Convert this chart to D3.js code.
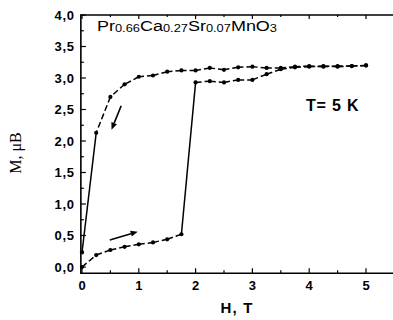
<!DOCTYPE html>
<html><head><meta charset="utf-8">
<script src="https://cdn.jsdelivr.net/npm/d3@7"></script>
<style>html,body{margin:0;padding:0;background:#fff;}svg{display:block;}</style>
</head><body>
<svg id="c" width="393" height="320"></svg>
<script>
// Increasing field branch (0 -> 5 T)
const upH = [0,0.25,0.5,0.75,1.0,1.25,1.5,1.75,2.0,2.25,2.5,2.75,3.0,3.25,3.5,3.75,4.0,4.25,4.5,4.75,5.0];
const upM = [0.0,0.19,0.27,0.32,0.36,0.39,0.44,0.52,2.93,2.95,2.93,2.97,2.97,3.06,3.14,3.17,3.18,3.19,3.18,3.19,3.20];
// Decreasing field branch (5 -> 0 T)
const downH = [5.0,4.75,4.5,4.25,4.0,3.75,3.5,3.25,3.0,2.75,2.5,2.25,2.0,1.75,1.5,1.25,1.0,0.75,0.5,0.25,0];
const downM = [3.20,3.19,3.19,3.18,3.19,3.18,3.16,3.16,3.18,3.17,3.13,3.16,3.12,3.12,3.10,3.04,3.02,2.90,2.70,2.13,0.23];
// Direction arrows [H0, M0, H1, M1]
const arrowDown = [0.69,2.56,0.52,2.18];
const arrowUp = [0.49,0.43,0.98,0.56];
const yTicks = [0,0.5,1.0,1.5,2.0,2.5,3.0,3.5,4.0];
const xTicks = [0,1,2,3,4,5];

(function(){
const svg = d3.select("#c");
const x = d3.scaleLinear().domain([0,5]).range([82,366]);
const y = d3.scaleLinear().domain([0,4]).range([267,15]);
const pLeft = x(-0.02), pTop = y(4), pBottom = y(-0.1), pRight = 400;
const sans = "Liberation Sans, Arial, sans-serif";

svg.append("path")
  .attr("d", `M${pRight},${pTop}H${pLeft}V${pBottom}H${pRight}`)
  .attr("fill","none").attr("stroke","#000").attr("stroke-width",1.6);

const g = svg.append("g");
d3.range(0,4.01,0.25).forEach(v=>{
  const major = Math.abs(v*2 - Math.round(v*2))<1e-6;
  g.append("line").attr("x1",pLeft).attr("x2",pLeft+(major?5:3))
    .attr("y1",y(v)).attr("y2",y(v)).attr("stroke","#000").attr("stroke-width",1.2);
});
d3.range(0,5.01,0.5).forEach(v=>{
  const major = Math.abs(v - Math.round(v))<1e-6;
  g.append("line").attr("x1",x(v)).attr("x2",x(v))
    .attr("y1",pBottom).attr("y2",pBottom-(major?5:3)).attr("stroke","#000").attr("stroke-width",1.2);
  g.append("line").attr("x1",x(v)).attr("x2",x(v))
    .attr("y1",pTop).attr("y2",pTop+(major?4:2)).attr("stroke","#000").attr("stroke-width",1.2);
});
const fmt = d3.format(".1f");
yTicks.forEach(v=>{
  svg.append("text").attr("x",pLeft-6).attr("y",y(v)+4.5)
    .attr("text-anchor","end").attr("font-family",sans).attr("letter-spacing",0.8)
    .attr("font-weight","bold").attr("font-size",13).text(fmt(v).replace(".",","));
});
xTicks.forEach(v=>{
  svg.append("text").attr("x",x(v)).attr("y",pBottom+17)
    .attr("text-anchor","middle").attr("font-family",sans)
    .attr("font-weight","bold").attr("font-size",13).text(v);
});

svg.append("text").attr("x",237).attr("y",313).attr("text-anchor","middle")
  .attr("font-family",sans).attr("font-weight","bold").attr("letter-spacing",1.2)
  .attr("font-size",15).text("H, T");
svg.append("text").attr("transform","translate(21,153) rotate(-90)").attr("text-anchor","middle")
  .attr("font-family","Liberation Serif, Times New Roman, serif").attr("font-size",16)
  .text("M, μB");

const t = svg.append("text").attr("x",97).attr("y",31)
  .attr("font-family",sans).attr("font-size",14)
  .attr("textLength",180).attr("lengthAdjust","spacingAndGlyphs");
[["Pr",false],["0.66",true],["Ca",false],["0.27",true],["Sr",false],["0.07",true],["MnO",false],["3",true]]
  .forEach(([s,sub],i,arr)=>{
    const prevSub = i>0 && arr[i-1][1];
    t.append("tspan").attr("font-size",sub?10:14).attr("dy",sub?1:(prevSub?-1:0)).text(s);
  });
svg.append("text").attr("x",306).attr("y",111).attr("font-family",sans).attr("letter-spacing",0.8)
  .attr("font-weight","bold").attr("font-size",16).text("T= 5 K");

function drawBranch(H,M){
  const pts = H.map((h,i)=>[x(h),y(M[i])]);
  for(let i=0;i<pts.length-1;i++){
    const solid = Math.abs(M[i+1]-M[i])>1;
    svg.append("line").attr("x1",pts[i][0]).attr("y1",pts[i][1])
      .attr("x2",pts[i+1][0]).attr("y2",pts[i+1][1])
      .attr("stroke","#000").attr("stroke-width",1.5)
      .attr("stroke-dasharray",solid?null:"6,3");
  }
  svg.selectAll(null).data(pts).enter().append("circle")
    .attr("cx",d=>d[0]).attr("cy",d=>d[1]).attr("r",2.1).attr("fill","#000");
}
drawBranch(upH,upM);
drawBranch(downH,downM);

function arrow(a){
  const x0=x(a[0]),y0=y(a[1]),x1=x(a[2]),y1=y(a[3]);
  const ang=Math.atan2(y1-y0,x1-x0), L=7, W=3;
  const bx=x1-L*Math.cos(ang), by=y1-L*Math.sin(ang);
  svg.append("line").attr("x1",x0).attr("y1",y0).attr("x2",bx).attr("y2",by)
    .attr("stroke","#000").attr("stroke-width",1.6);
  svg.append("path").attr("d",`M${x1},${y1}L${bx-W*Math.sin(ang)},${by+W*Math.cos(ang)}L${bx+W*Math.sin(ang)},${by-W*Math.cos(ang)}Z`)
    .attr("fill","#000");
}
arrow(arrowDown);
arrow(arrowUp);
})();
</script>
</body></html>
